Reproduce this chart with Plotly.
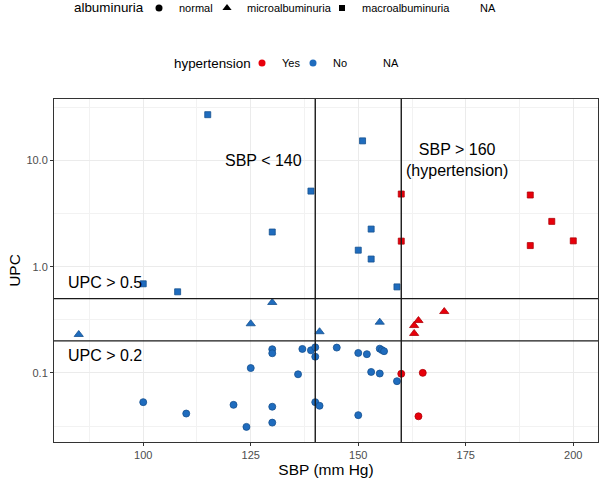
import plotly.graph_objects as go

# ---- data ----
sbp = [115, 139, 130, 100, 108, 151, 153, 150, 153, 159,
       160, 190, 195, 190, 200, 160,
       85, 130, 125, 141, 155,
       170, 164, 163, 163,
       100, 110, 121, 124, 130, 130, 125, 130, 130, 137, 136, 139, 140, 140, 140, 141,
       145, 150, 152, 155, 155.5, 156, 153, 155, 159, 150,
       160, 165, 164]
upc = [27, 5.15, 2.12, 0.69, 0.58, 15.3, 2.26, 1.43, 1.18, 0.645,
       4.83, 4.73, 2.67, 1.58, 1.75, 1.74,
       0.23, 0.46, 0.29, 0.244, 0.30,
       0.378, 0.311, 0.279, 0.235,
       0.053, 0.0414, 0.050, 0.031, 0.048, 0.034, 0.111, 0.167, 0.153, 0.168, 0.097, 0.163, 0.174, 0.142, 0.053, 0.049,
       0.173, 0.154, 0.150, 0.169, 0.164, 0.160, 0.102, 0.0986, 0.0835, 0.040,
       0.098, 0.100, 0.039]
albuminuria = (["macroalbuminuria"] * 16 + ["microalbuminuria"] * 9 + ["normal"] * 29)
hypertension = (["No"] * 10 + ["Yes"] * 6 + ["No"] * 5 + ["Yes"] * 4 + ["No"] * 26 + ["Yes"] * 3)

alb_levels = ["normal", "microalbuminuria", "macroalbuminuria", "NA"]
hyp_levels = ["Yes", "No", "NA"]
sbp_thresholds = [140, 160]
upc_thresholds = [0.5, 0.2]
x_ticks = [100, 125, 150, 175, 200]
y_ticks = [0.1, 1, 10]
y_ticklabels = ["0.1", "1.0", "10.0"]

symbols = {"normal": "circle", "microalbuminuria": "triangle-up", "macroalbuminuria": "square", "NA": "circle"}
sizes = {"normal": 7, "microalbuminuria": 8, "macroalbuminuria": 6, "NA": 7}
colors = {"Yes": "#E8000B", "No": "#1F6CBE", "NA": "rgba(0,0,0,0)"}
edge = {"Yes": "#B00008", "No": "#15508F"}
alb_entry_w = {"normal": 23, "microalbuminuria": 70, "macroalbuminuria": 73, "NA": 20}
hyp_entry_w = {"Yes": 6, "No": 5, "NA": 20}

FONT = "Liberation Sans, Arial, sans-serif"
fig = go.Figure()

for a in alb_levels[:3]:
    for h in hyp_levels[:2]:
        xs = [x for x, aa, hh in zip(sbp, albuminuria, hypertension) if aa == a and hh == h]
        ys = [y for y, aa, hh in zip(upc, albuminuria, hypertension) if aa == a and hh == h]
        if not xs:
            continue
        fig.add_trace(go.Scatter(
            x=xs, y=ys, mode="markers", showlegend=False,
            marker=dict(symbol=symbols[a], size=sizes[a], color=colors[h],
                        line=dict(color=edge[h], width=0.8)),
        ))

# legend: albuminuria (shape)
for a in alb_levels:
    fig.add_trace(go.Scatter(
        x=[None], y=[None], mode="markers", name=a, legend="legend", legendwidth=alb_entry_w[a],
        marker=dict(symbol=symbols[a], size=sizes[a],
                    color="black" if a != "NA" else "rgba(0,0,0,0)"),
    ))
# legend: hypertension (colour)
for h in hyp_levels:
    fig.add_trace(go.Scatter(
        x=[None], y=[None], mode="markers", name=h, legend="legend2", legendwidth=hyp_entry_w[h],
        marker=dict(symbol="circle", size=7, color=colors[h]),
    ))

for v in sbp_thresholds:
    fig.add_vline(x=v, line=dict(color="#1A1A1A", width=1.4), layer="above")
for v in upc_thresholds:
    fig.add_hline(y=v, line=dict(color="#1A1A1A", width=1.4), layer="above")

ann_font = dict(family=FONT, size=16, color="black")
fig.add_annotation(x=127.9, y=1, yref="y", text="SBP < 140", showarrow=False, font=ann_font)
fig.add_annotation(x=173, y=1, yref="y", text="SBP > 160<br>(hypertension)", showarrow=False, font=ann_font)
fig.add_annotation(x=91, y=-0.153, yref="y", text="UPC > 0.5", showarrow=False, font=ann_font)
fig.add_annotation(x=91, y=-0.84, yref="y", text="UPC > 0.2", showarrow=False, font=ann_font)

# legend titles
title_font = dict(family=FONT, size=13.4, color="black")
fig.add_annotation(xref="paper", yref="paper", x=(72 - 54) / 544, y=(442 - 8) / 343,
                   xanchor="left", yanchor="middle", text="albuminuria", showarrow=False, font=title_font)
fig.add_annotation(xref="paper", yref="paper", x=(172 - 54) / 544, y=(442 - 63) / 343,
                   xanchor="left", yanchor="middle", text="hypertension", showarrow=False, font=title_font)

fig.update_layout(
    width=600, height=482,
    margin=dict(l=54, r=2, t=99, b=40, autoexpand=False),
    plot_bgcolor="white", paper_bgcolor="white",
    font=dict(family=FONT, color="black"),
    legend=dict(orientation="h", x=(139 - 54) / 544, xanchor="left", y=(442 - 8) / 343, yanchor="middle",
                font=dict(size=11, family=FONT), bgcolor="rgba(0,0,0,0)"),
    legend2=dict(orientation="h", x=(242 - 54) / 544, xanchor="left", y=(442 - 63) / 343, yanchor="middle",
                 font=dict(size=11, family=FONT), bgcolor="rgba(0,0,0,0)"),
    xaxis=dict(range=[79.25, 205.75], tickvals=x_ticks, ticks="outside", ticklen=3,
               tickcolor="#333333", tickfont=dict(size=11, color="#4D4D4D"),
               showgrid=True, gridcolor="#EBEBEB", gridwidth=1.3,
               minor=dict(dtick=12.5, tick0=87.5, showgrid=True, gridcolor="#F2F2F2", gridwidth=0.7, ticks=""),
               showline=True, mirror=True, linecolor="#333333", linewidth=1, zeroline=False,
               title=dict(text="SBP (mm Hg)", font=dict(size=15.5), standoff=2)),
    yaxis=dict(type="log", range=[-1.651, 1.579], tickvals=y_ticks, ticktext=y_ticklabels,
               ticks="outside", ticklen=3, tickcolor="#333333",
               tickfont=dict(size=11, color="#4D4D4D"),
               showgrid=True, gridcolor="#EBEBEB", gridwidth=1.3,
               minor=dict(tickmode="array", tickvals=[0.0316, 0.316, 3.16, 31.6], showgrid=True,
                          gridcolor="#F2F2F2", gridwidth=0.7, ticks=""),
               showline=True, mirror=True, linecolor="#333333", linewidth=1, zeroline=False,
               title=dict(text="UPC", font=dict(size=15.5), standoff=1)),
)

fig.write_html("out.html", config={"displayModeBar": False},
               post_script="document.body.style.margin='0';document.body.style.overflow='hidden';")
